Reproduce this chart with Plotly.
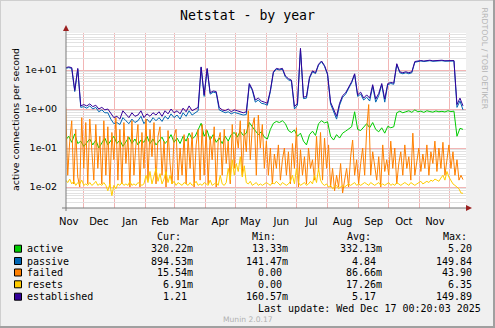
import plotly.graph_objects as go
import pandas as pd

# ---------------- data ----------------
dates3 = pd.date_range(start="2024-11-13", periods=133, freq="3D")
dates2 = pd.date_range(start="2024-11-13", periods=199, freq="2D")

established = [
    11.5, 12, 11.5, 3.0, 11, 1.2, 1.3, 1.2, 1.35, 1.15,
    1.25, 1.0, 1.1, 0.95, 1.0, 0.75, 0.6, 0.65, 0.55, 0.9,
    0.75, 0.6, 0.8, 0.65, 0.7, 0.9, 0.6, 0.75, 0.65, 0.8,
    0.7, 0.85, 0.65, 0.9, 0.75, 1.0, 0.8, 0.9, 0.75, 1.05,
    0.85, 1.2, 0.9, 1.0, 1.1, 12, 2.3, 11, 2.6, 2.9,
    2.8, 1.1, 0.95, 0.9, 1.0, 0.85, 0.95, 0.9, 0.85, 0.8,
    0.85, 4.5, 3.2, 1.7, 1.9, 1.6, 1.5, 1.4, 3.0, 9,
    11, 10.5, 11, 7, 6, 5.5, 1.15, 1.4, 36, 2.0,
    2.1, 6.5, 9.5, 8.5, 14, 17, 13, 8, 1.5, 1.0,
    0.65, 1.4, 2.2, 2.6, 3.5, 5, 8, 2.3, 2.7, 1.9,
    2.3, 1.9, 4.2, 1.8, 2.5, 4.5, 1.8, 4.5, 4.8, 4.6,
    14.5, 9, 8.5, 9, 8.5, 9, 16.5, 17, 17.5, 17,
    17.5, 17.8, 17.2, 17.6, 17.4, 17.8, 17.3, 17.6, 17.9, 17.5,
    1.3, 1.9, 1.2,
]

passive = [
    11, 11.5, 11, 2.8, 10.5, 1.1, 1.15, 1.05, 1.2, 1.0,
    1.1, 0.85, 0.95, 0.8, 0.8, 0.55, 0.42, 0.45, 0.4, 0.6,
    0.5, 0.42, 0.55, 0.45, 0.5, 0.65, 0.42, 0.55, 0.45, 0.6,
    0.5, 0.6, 0.48, 0.65, 0.55, 0.75, 0.6, 0.7, 0.55, 0.8,
    0.65, 0.9, 0.7, 0.8, 0.9, 11.5, 2.1, 10.5, 2.4, 2.7,
    2.6, 0.95, 0.85, 0.8, 0.85, 0.75, 0.82, 0.78, 0.75, 0.7,
    0.72, 4.2, 3.0, 1.5, 1.7, 1.4, 1.35, 1.25, 2.8, 8.5,
    10.5, 10, 10.5, 6.6, 5.6, 5.2, 1.0, 1.25, 34, 1.85,
    1.9, 6.1, 9, 8.1, 13.3, 16.3, 12.4, 7.5, 1.35, 0.9,
    0.55, 1.25, 2.0, 2.4, 3.3, 4.7, 7.6, 2.1, 2.4, 1.7,
    2.0, 1.6, 3.8, 1.5, 2.2, 4.2, 1.5, 4.2, 4.5, 4.3,
    13.8, 8.5, 8, 8.5, 8, 8.5, 15.8, 16.5, 17, 16.5,
    17, 17.3, 16.7, 17.1, 16.9, 17.3, 16.8, 17.1, 17.4, 17,
    1.1, 1.6, 0.95,
]

active = [
    0.16, 0.2, 0.14, 0.23, 0.13, 0.15, 0.11, 0.14, 0.17, 0.12,
    0.16, 0.1, 0.14, 0.18, 0.12, 0.15, 0.2, 0.13, 0.16, 0.11,
    0.15, 0.19, 0.13, 0.17, 0.12, 0.16, 0.14, 0.2, 0.13, 0.17,
    0.12, 0.15, 0.19, 0.13, 0.16, 0.22, 0.14, 0.18, 0.13, 0.2,
    0.15, 0.24, 0.17, 0.2, 0.3, 0.43, 0.2, 0.28, 0.16, 0.22,
    0.14, 0.18, 0.13, 0.2, 0.15, 0.22, 0.25, 0.19, 0.27, 0.21,
    0.24, 0.45, 0.35, 0.28, 0.22, 0.26, 0.19, 0.17, 0.3, 0.43,
    0.48, 0.45, 0.5, 0.42, 0.28, 0.25, 0.29, 0.2, 0.24, 0.15,
    0.12, 0.22, 0.27, 0.21, 0.42, 0.5, 0.44, 0.47, 0.2, 0.16,
    0.22, 0.18, 0.24, 0.27, 0.3, 0.35, 0.85, 0.3, 0.28, 0.35,
    0.42, 0.33, 0.45, 0.3, 0.26, 0.33, 0.24, 0.36, 0.33, 0.35,
    0.8, 0.88, 0.8, 0.85, 0.9, 0.82, 0.95, 0.85, 0.88, 0.82,
    0.9, 0.86, 0.83, 0.89, 0.85, 0.87, 0.84, 0.9, 0.86, 0.88,
    0.2, 0.32, 0.3,
]

failed = [
    1.1, 0.02, 0.15, 0.5, 0.012, 0.3, 0.018, 0.01, 0.6, 0.03,
    0.45, 0.012, 0.55, 0.08, 0.015, 0.4, 0.03, 0.2, 0.012, 0.5,
    0.02, 0.35, 0.01, 0.25, 0.05, 0.6, 0.015, 0.3, 0.012, 0.45,
    0.04, 0.2, 0.01, 0.5, 0.02, 0.12, 0.4, 0.01, 0.25, 0.03,
    0.55, 0.015, 0.3, 0.06, 0.45, 0.012, 0.2, 0.35, 0.02, 0.15,
    0.01, 0.28, 0.04, 0.012, 0.2, 0.3, 0.015, 0.1, 0.02, 0.22,
    0.012, 0.18, 0.03, 0.25, 0.01, 0.12, 0.3, 0.015, 0.4, 0.02,
    0.3, 0.012, 0.2, 0.05, 0.35, 0.01, 0.15, 0.25, 0.02, 0.3,
    0.04, 0.15, 0.012, 0.4, 0.03, 0.25, 0.1, 0.5, 0.02, 0.3,
    0.08, 0.9, 0.05, 0.35, 0.6, 0.02, 0.7, 0.1, 0.4, 0.03,
    0.15, 0.02, 0.1, 0.012, 0.07, 0.03, 0.12, 0.015, 0.05, 0.1,
    0.02, 0.08, 0.012, 0.13, 0.03, 0.33, 0.01, 0.09, 0.02, 0.06,
    0.012, 0.1, 0.03, 0.05, 0.015, 0.2, 0.025, 0.25, 0.015, 0.18,
    0.03, 0.12, 0.01, 0.03, 0.008, 0.02, 0.01, 0.04, 0.007, 0.015,
    0.03, 0.01, 0.06, 0.16, 0.02, 0.05, 0.012, 0.04, 0.1, 0.02,
    0.3, 1.3, 0.02, 0.08, 0.03, 0.015, 0.06, 0.01, 0.12, 0.025,
    0.05, 0.02, 0.15, 0.03, 0.1, 0.012, 0.04, 0.08, 0.02, 0.12,
    0.03, 0.06, 0.015, 0.24, 0.02, 0.05, 0.1, 0.025, 0.07, 0.03,
    0.12, 0.02, 0.08, 0.04, 0.15, 0.025, 0.1, 0.03, 0.14, 0.02,
    0.06, 0.12, 0.03, 0.08, 0.02, 0.05, 0.015, 0.02, 0.0155,
]

resets = [
    0.015, 0.013, 0.016, 0.012, 0.014, 0.011, 0.013, 0.012, 0.015, 0.011,
    0.012, 0.011, 0.013, 0.011, 0.012, 0.014, 0.011, 0.012, 0.011, 0.013,
    0.011, 0.008, 0.012, 0.006, 0.011, 0.009, 0.012, 0.011, 0.013, 0.011,
    0.012, 0.011, 0.014, 0.011, 0.012, 0.011, 0.013, 0.012, 0.011, 0.012,
    0.02, 0.013, 0.025, 0.012, 0.018, 0.03, 0.014, 0.022, 0.012, 0.016,
    0.025, 0.013, 0.02, 0.012, 0.014, 0.011, 0.013, 0.012, 0.011, 0.013,
    0.012, 0.011, 0.013, 0.011, 0.012, 0.014, 0.011, 0.012, 0.011, 0.013,
    0.012, 0.011, 0.015, 0.011, 0.012, 0.013, 0.011, 0.02, 0.012, 0.011,
    0.013, 0.03, 0.015, 0.05, 0.02, 0.04, 0.025, 0.06, 0.018, 0.035,
    0.013, 0.012, 0.014, 0.011, 0.012, 0.013, 0.011, 0.012, 0.011, 0.012,
    0.013, 0.012, 0.011, 0.013, 0.012, 0.014, 0.012, 0.011, 0.013, 0.012,
    0.011, 0.012, 0.014, 0.02, 0.012, 0.03, 0.013, 0.011, 0.012, 0.013,
    0.011, 0.012, 0.014, 0.012, 0.02, 0.013, 0.03, 0.015, 0.012, 0.011,
    0.012, 0.01, 0.011, 0.009, 0.01, 0.011, 0.009, 0.01, 0.011, 0.01,
    0.011, 0.012, 0.011, 0.012, 0.013, 0.011, 0.012, 0.011, 0.012, 0.013,
    0.012, 0.011, 0.013, 0.012, 0.011, 0.012, 0.013, 0.011, 0.012, 0.011,
    0.012, 0.013, 0.011, 0.012, 0.011, 0.013, 0.012, 0.011, 0.012, 0.013,
    0.012, 0.011, 0.013, 0.012, 0.011, 0.012, 0.013, 0.014, 0.012, 0.013,
    0.014, 0.013, 0.015, 0.014, 0.016, 0.015, 0.014, 0.017, 0.02, 0.015,
    0.025, 0.018, 0.014, 0.012, 0.011, 0.01, 0.009, 0.007, 0.0069,
]

month_labels = ["Nov", "Dec", "Jan", "Feb", "Mar", "Apr", "May", "Jun",
                "Jul", "Aug", "Sep", "Oct", "Nov"]
month_label_dates = ["2024-11-16", "2024-12-16", "2025-01-16", "2025-02-15",
                     "2025-03-16", "2025-04-16", "2025-05-16", "2025-06-16",
                     "2025-07-16", "2025-08-16", "2025-09-16", "2025-10-16",
                     "2025-11-16"]
month_starts = ["2024-12-01", "2025-01-01", "2025-02-01", "2025-03-01",
                "2025-04-01", "2025-05-01", "2025-06-01", "2025-07-01",
                "2025-08-01", "2025-09-01", "2025-10-01", "2025-11-01",
                "2025-12-01"]
y_tick_vals = [0.01, 0.1, 1, 10]
y_tick_text = ["1e-02", "1e-01", "1e+00", "1e+01"]

legend_names = ["active", "passive", "failed", "resets", "established"]
legend_colors = ["#00cc00", "#0066b3", "#ff8000", "#ffcc00", "#330099"]
cur_vals = ["320.22m", "894.53m", "15.54m", "6.91m", "1.21"]
min_vals = ["13.33m", "141.47m", "0.00", "0.00", "160.57m"]
avg_vals = ["332.13m", "4.84", "86.66m", "17.26m", "5.17"]
max_vals = ["5.20", "149.84", "43.90", "6.35", "149.89"]

# ---------------- layout helpers ----------------
W, H = 495, 328
L, R, T, B = 66, 29, 33, 120
PW = W - L - R
PH = H - T - B


def px(x):
    return (x - L) / PW


def py(y):
    return (H - B - y) / PH


MONO = "DejaVu Sans Mono"
SANS = "DejaVu Sans"

fig = go.Figure()
series = [
    ("active", dates3, active, "#00cc00"),
    ("passive", dates3, passive, "#0066b3"),
    ("failed", dates2, failed, "#ff8000"),
    ("resets", dates2, resets, "#ffcc00"),
    ("established", dates3, established, "#330099"),
]
for name, xs, ys, col in series:
    fig.add_trace(go.Scatter(x=xs, y=ys, mode="lines", name=name,
                             line=dict(color=col, width=1), hoverinfo="skip"))

MAJ = "#f2b5b5"
MIN = "#e2e2e2"
minor_y = []
for e in [0.001, 0.01, 0.1, 1, 10]:
    for k in range(2, 10):
        minor_y.append(k * e)

fig.update_layout(
    width=W, height=H,
    margin=dict(l=L, r=R, t=T, b=B, pad=0),
    paper_bgcolor="#f0f0f0",
    plot_bgcolor="#ffffff",
    showlegend=False,
    hovermode=False,
    xaxis=dict(
        type="date",
        range=["2024-11-13 07:00", "2025-12-17 00:00"],
        tickmode="array", tickvals=month_label_dates, ticktext=month_labels,
        showgrid=False, zeroline=False, showline=False, ticks="",
        ticklabelstandoff=6,
        tickfont=dict(family=SANS, size=10, color="#000000"),
        minor=dict(tickmode="array", tickvals=month_starts, showgrid=True,
                   gridcolor=MAJ, gridwidth=1, ticks=""),
    ),
    yaxis=dict(
        type="log",
        range=[-2.5385, 1.9487],
        tickmode="array", tickvals=y_tick_vals, ticktext=y_tick_text,
        showgrid=True, gridcolor=MAJ, gridwidth=1,
        zeroline=False, showline=False, ticks="",
        ticklabelstandoff=8,
        tickfont=dict(family=SANS, size=9.5, color="#000000"),
        minor=dict(tickmode="array", tickvals=minor_y, showgrid=True,
                   gridcolor=MIN, gridwidth=1, ticks=""),
    ),
)

shapes = []
# axes lines
shapes.append(dict(type="line", xref="paper", yref="paper",
                   x0=px(62), x1=px(467), y0=py(208), y1=py(208),
                   line=dict(color="#7a7a7a", width=1)))
shapes.append(dict(type="line", xref="paper", yref="paper",
                   x0=px(66), x1=px(66), y0=py(211), y1=py(29),
                   line=dict(color="#7a7a7a", width=1)))
# arrows
shapes.append(dict(type="path", xref="paper", yref="paper",
                   path="M {} {} L {} {} L {} {} Z".format(
                       px(63), py(31), px(69), py(31), px(66), py(25)),
                   fillcolor="#9b2020", line=dict(color="#9b2020", width=0)))
shapes.append(dict(type="path", xref="paper", yref="paper",
                   path="M {} {} L {} {} L {} {} Z".format(
                       px(466), py(205), px(466), py(211), px(472), py(208)),
                   fillcolor="#9b2020", line=dict(color="#9b2020", width=0)))
# frame of the image
shapes.append(dict(type="line", xref="paper", yref="paper",
                   x0=px(0), x1=px(495), y0=py(0.5), y1=py(0.5),
                   line=dict(color="#cfcfcf", width=1)))
shapes.append(dict(type="line", xref="paper", yref="paper",
                   x0=px(0.5), x1=px(0.5), y0=py(0), y1=py(328),
                   line=dict(color="#cfcfcf", width=1)))
shapes.append(dict(type="line", xref="paper", yref="paper",
                   x0=px(0), x1=px(495), y0=py(327), y1=py(327),
                   line=dict(color="#a0a0a0", width=2)))
shapes.append(dict(type="line", xref="paper", yref="paper",
                   x0=px(494), x1=px(494), y0=py(0), y1=py(328),
                   line=dict(color="#a0a0a0", width=2)))

annotations = []


def txt(x, y, s, xanchor="left", size=10, family=MONO, color="#000000",
        angle=0, yanchor="middle"):
    annotations.append(dict(x=px(x), y=py(y), xref="paper", yref="paper",
                            text=s, showarrow=False, xanchor=xanchor,
                            yanchor=yanchor, textangle=angle,
                            borderpad=0, borderwidth=0,
                            font=dict(family=family, size=size, color=color)))


txt(247.7, 16, "Netstat - by year", xanchor="center", size=13.2)
txt(15, 120, "active connections per second", xanchor="center",
    size=9.4, family=SANS, angle=-90)
txt(484.5, 59, "RRDTOOL / TOBI OETIKER", xanchor="center", size=7.9,
    family=SANS, color="#b4b4b4", angle=90)

# legend header
row_y = [248.7, 261.0, 272.5, 284.3, 296.7]
txt(157.3, 236, "Cur:")
txt(251.7, 236, "Min:")
txt(346.7, 236, "Avg:")
txt(442.7, 236, "Max:")

col_right = [192.7, 287.7, 381.7, 478.3]
cols = [cur_vals, min_vals, avg_vals, max_vals]
for i, name in enumerate(legend_names):
    yy = row_y[i]
    shapes.append(dict(type="rect", xref="paper", yref="paper",
                       x0=px(14.5), x1=px(21.5), y0=py(yy + 3.5), y1=py(yy - 3.5),
                       fillcolor=legend_colors[i],
                       line=dict(color="#000000", width=1)))
    txt(26.7, yy, name)
    for c, vals in enumerate(cols):
        v = vals[i]
        rx = col_right[c] if v.endswith("m") else col_right[c] - 6.02
        txt(rx, yy, v, xanchor="right")

txt(481, 308.5, "Last update: Wed Dec 17 00:20:03 2025", xanchor="right")
txt(248, 319.5, "Munin 2.0.17", xanchor="center", size=7.6, family=SANS,
    color="#b0b0b0")

fig.update_layout(shapes=shapes, annotations=annotations)
fig.write_html("out.html")
